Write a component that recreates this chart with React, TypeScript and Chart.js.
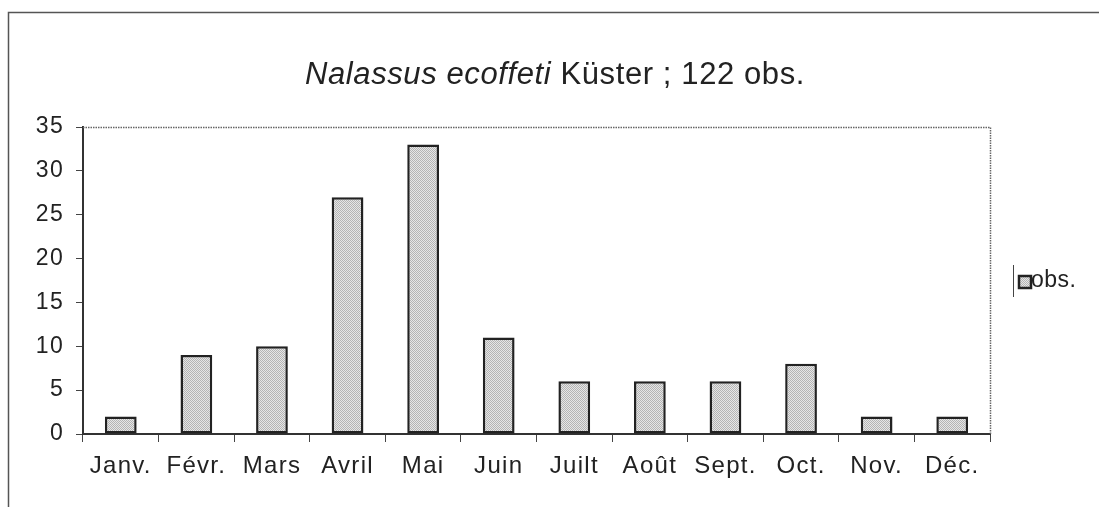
import React, { useEffect, useRef } from "react";
import { Chart, registerables } from "chart.js";

Chart.register(...registerables);

const months = ["Janv.", "Févr.", "Mars", "Avril", "Mai", "Juin", "Juilt", "Août", "Sept.", "Oct.", "Nov.", "Déc."];
const obs = [2, 9, 10, 27, 33, 11, 6, 6, 6, 8, 2, 2];
const seriesLabel = "obs.";
const titleItalic = "Nalassus ecoffeti";
const titleRest = " Küster ; 122 obs.";
const yMax = 35;
const yStep = 5;

const FONT = "'Liberation Sans', Arial, sans-serif";

function makePattern(): CanvasPattern | string {
  const c = document.createElement("canvas");
  c.width = 2;
  c.height = 2;
  const g = c.getContext("2d");
  if (!g) return "#cccccc";
  g.fillStyle = "#e6e6e6";
  g.fillRect(0, 0, 2, 2);
  g.fillStyle = "#b4b4b4";
  g.fillRect(0, 0, 1, 1);
  g.fillRect(1, 1, 1, 1);
  const p = g.createPattern(c, "repeat");
  return p || "#cccccc";
}

const decorPlugin = {
  id: "decor",
  beforeDraw(chart: any) {
    const ctx = chart.ctx;
    ctx.letterSpacing = "1.3px";
    ctx.save();
    ctx.strokeStyle = "#555";
    ctx.lineWidth = 1.5;
    ctx.beginPath();
    ctx.moveTo(8.5, 507);
    ctx.lineTo(8.5, 12.5);
    ctx.lineTo(1099, 12.5);
    ctx.stroke();
    ctx.restore();
  },
  afterDraw(chart: any) {
    const ctx = chart.ctx;
    const a = chart.chartArea;
    ctx.save();
    ctx.strokeStyle = "#666";
    ctx.lineWidth = 1.5;
    ctx.setLineDash([1.5, 1]);
    ctx.beginPath();
    ctx.moveTo(a.left, a.top + 0.5);
    ctx.lineTo(a.right + 0.5, a.top + 0.5);
    ctx.lineTo(a.right + 0.5, a.bottom);
    ctx.stroke();
    ctx.setLineDash([]);
    // title
    ctx.letterSpacing = "0.6px";
    ctx.fillStyle = "#222";
    ctx.textBaseline = "alphabetic";
    const fItal = `italic 31px ${FONT}`;
    const fNorm = `31px ${FONT}`;
    ctx.font = fItal;
    const w1 = ctx.measureText(titleItalic).width;
    ctx.font = fNorm;
    const w2 = ctx.measureText(titleRest).width;
    const x0 = 555 - (w1 + w2) / 2;
    ctx.font = fItal;
    ctx.fillText(titleItalic, x0, 84);
    ctx.font = fNorm;
    ctx.fillText(titleRest, x0 + w1, 84);
    // legend
    ctx.letterSpacing = "0.5px";
    ctx.strokeStyle = "#444";
    ctx.lineWidth = 1;
    ctx.beginPath();
    ctx.moveTo(1013.5, 265);
    ctx.lineTo(1013.5, 297);
    ctx.stroke();
    ctx.fillStyle = chart.data.datasets[0].backgroundColor;
    ctx.fillRect(1019, 276, 12, 12);
    ctx.strokeStyle = "#222";
    ctx.lineWidth = 2.5;
    ctx.strokeRect(1019, 276, 12, 12);
    ctx.fillStyle = "#222";
    ctx.font = `23px ${FONT}`;
    ctx.textBaseline = "middle";
    ctx.fillText(seriesLabel, 1031, 281);
    ctx.restore();
  },
};

export default function App() {
  const ref = useRef<HTMLCanvasElement>(null);
  useEffect(() => {
    if (!ref.current) return;
    const chart = new Chart(ref.current, {
      type: "bar",
      data: {
        labels: months,
        datasets: [
          {
            label: seriesLabel,
            data: obs,
            backgroundColor: makePattern() as any,
            borderColor: "#222",
            borderWidth: 2.5,
            borderSkipped: false,
            barPercentage: 0.42,
            categoryPercentage: 1,
          },
        ],
      },
      options: {
        animation: false,
        responsive: false,
        maintainAspectRatio: false,
        layout: { padding: { left: 0, right: 109, top: 127, bottom: 0 } },
        plugins: {
          legend: { display: false },
          title: { display: false },
          tooltip: { enabled: false },
        },
        scales: {
          x: {
            offset: true,
            grid: {
              offset: true,
              drawOnChartArea: false,
              drawTicks: true,
              tickLength: 8,
              color: "#444",
              tickWidth: 1,
            },
            border: { color: "#333", width: 2 },
            ticks: { color: "#222", font: { family: FONT, size: 24 }, padding: 10 },
            afterFit(scale: any) {
              scale.height = 73;
            },
          },
          y: {
            min: 0,
            max: yMax,
            grid: { drawOnChartArea: false, drawTicks: true, tickLength: 7, color: "#444" },
            border: { color: "#333", width: 2 },
            ticks: {
              stepSize: yStep,
              color: "#222",
              font: { family: FONT, size: 23 },
              padding: 12,
            },
            afterFit(scale: any) {
              scale.width = 83;
            },
          },
        },
      },
      plugins: [decorPlugin],
    });
    return () => chart.destroy();
  }, []);
  return (
    <div style={{ position: "fixed", left: 0, top: 0, width: 1099, height: 507, background: "#fff" }}>
      <canvas ref={ref} width={1099} height={507} style={{ width: 1099, height: 507 }} />
    </div>
  );
}
